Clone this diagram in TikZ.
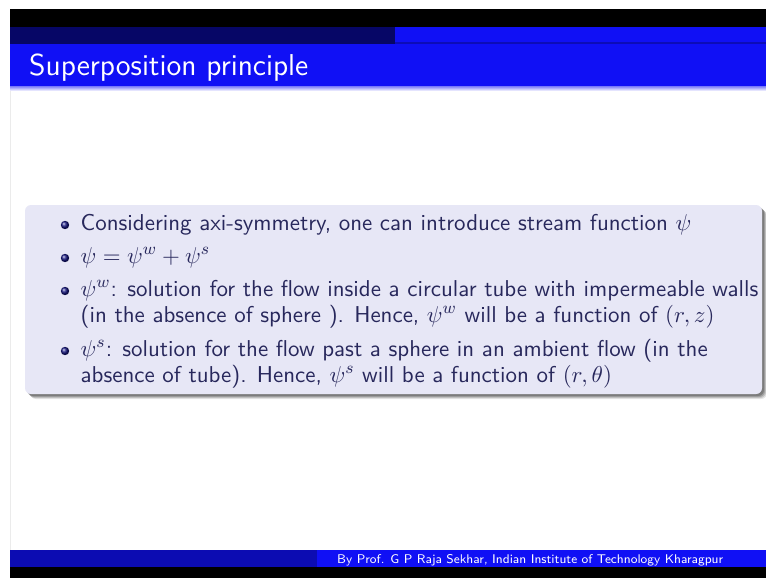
\documentclass[tikz,border=0pt]{standalone}
\usepackage{graphicx}
\definecolor{slideblue}{RGB}{16,16,245}
\definecolor{slidenavy}{RGB}{6,6,102}
\definecolor{footdark}{RGB}{12,12,178}
\definecolor{blockbg}{RGB}{231,231,246}
\definecolor{bodytext}{RGB}{40,40,92}
\definecolor{bulletc}{RGB}{24,24,130}
% slide text is set at its design size and enlarged as a whole
\newcommand{\slidetext}[1]{\scalebox{2.095}{\sffamily\fontsize{10.95}{13}\selectfont #1}}
\tikzset{
  bodyline/.style={anchor=base west, inner sep=0pt, text=bodytext},
  titletext/.style={anchor=base west, inner sep=0pt, text=white},
  foottext/.style={anchor=base west, inner sep=0pt, text=white},
  itemball/.style={ball color=bulletc}
}
\begin{document}
\begin{tikzpicture}[x=1pt,y=-1pt]
\useasboundingbox (0,0) rectangle (766,578);
\fill[white] (0,0) rectangle (766,578);
% head bands
\fill[black] (10,9) rectangle (766,27);
\fill[slidenavy] (10,27) rectangle (395,44);
\fill[slideblue] (395,27) rectangle (766,42);
\fill[slideblue!75!black] (395,42) rectangle (766,44);
\fill[slideblue] (10,44) rectangle (766,87);
\shade[top color=slideblue!45, bottom color=white] (10,87) rectangle (766,91);
\draw[black!8] (10.5,91) -- (10.5,550);
% foot bands
\fill[footdark] (10,550) rectangle (317,567);
\fill[slideblue] (317,550) rectangle (766,567);
\fill[black] (10,567) rectangle (766,578);
% frame title
\node[titletext] (title) at (29,75)
  {\resizebox{279pt}{!}{\sffamily\fontsize{14.4}{17}\selectfont Superposition principle}};
% block with soft shadow
\foreach \k/\op in {5/0.10,4/0.14,3/0.18,2/0.22}
  \fill[black, opacity=\op, rounded corners=6] (25+\k,205+\k) rectangle (762+\k,394+\k);
\fill[blockbg, rounded corners=6] (25,205) rectangle (762,394);
% items
\foreach \yb in {225,258,291,351}
  \shade[itemball] (65,\yb) circle (4.2);
\node[bodyline] (l1) at (80.5,230) {\slidetext{Considering axi-symmetry, one can introduce stream function $\psi$}};
\node[bodyline] (l2) at (80.5,263) {\slidetext{$\psi = \psi^{w} + \psi^{s}$}};
\node[bodyline] (l3) at (80.5,296) {\slidetext{$\psi^{w}$: solution for the flow inside a circular tube with impermeable walls}};
\node[bodyline] (l4) at (80.5,322) {\slidetext{(in the absence of sphere ). Hence, $\psi^{w}$ will be a function of $(r,z)$}};
\node[bodyline] (l5) at (80.5,356) {\slidetext{$\psi^{s}$: solution for the flow past a sphere in an ambient flow (in the}};
\node[bodyline] (l6) at (80.5,382) {\slidetext{absence of tube). Hence, $\psi^{s}$ will be a function of $(r,\theta)$}};
% footline
\node[foottext] (foot) at (337,563)
  {\resizebox{386pt}{!}{\sffamily\fontsize{6}{7}\selectfont By Prof. G P Raja Sekhar, Indian Institute of Technology Kharagpur}};
\end{tikzpicture}
\end{document}
